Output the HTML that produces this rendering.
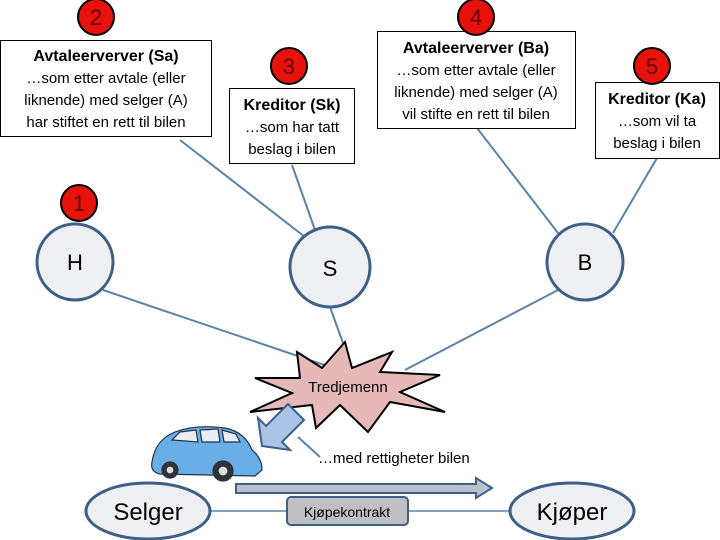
<!DOCTYPE html>
<html><head><meta charset="utf-8"><style>
body{margin:0;background:#fff}
svg{display:block;font-family:"Liberation Sans",sans-serif}
</style></head><body>
<svg width="720" height="540" viewBox="0 0 720 540" xmlns="http://www.w3.org/2000/svg">
<g stroke="#5b82a8" stroke-width="2" fill="none">
<line x1="180" y1="140" x2="305" y2="237"/>
<line x1="292" y1="165" x2="315" y2="230"/>
<line x1="477" y1="128" x2="558" y2="233"/>
<line x1="657" y1="158" x2="613" y2="233"/>
<line x1="103" y1="290" x2="345" y2="372"/>
<line x1="330" y1="307" x2="352" y2="368"/>
<line x1="558" y1="290" x2="405" y2="370"/>
<line x1="298" y1="437" x2="320" y2="457"/>
<line x1="205" y1="511" x2="510" y2="511" stroke-width="1.5"/>
</g>
<!-- boxes -->
<g fill="#fff" stroke="#000" stroke-width="1">
<rect x="0.5" y="40.5" width="211" height="96"/>
<rect x="229.5" y="88.5" width="125" height="75"/>
<rect x="377.5" y="31.5" width="198" height="97"/>
<rect x="595.5" y="82.5" width="124" height="76"/>
</g>
<g text-anchor="middle" font-size="15" fill="#000">
<text x="106" y="61" font-weight="bold" font-size="16">Avtaleerverver (Sa)</text>
<text x="106" y="83">…som etter avtale (eller</text>
<text x="106" y="105">liknende) med selger (A)</text>
<text x="106" y="127">har stiftet en rett til bilen</text>
<text x="292" y="110" font-weight="bold" font-size="16">Kreditor (Sk)</text>
<text x="292" y="132">…som har tatt</text>
<text x="292" y="154">beslag i bilen</text>
<text x="476" y="53" font-weight="bold" font-size="16">Avtaleerverver (Ba)</text>
<text x="476" y="75">…som etter avtale (eller</text>
<text x="476" y="97">liknende) med selger (A)</text>
<text x="476" y="119">vil stifte en rett til bilen</text>
<text x="657" y="104" font-weight="bold" font-size="16">Kreditor (Ka)</text>
<text x="657" y="126">…som vil ta</text>
<text x="657" y="148">beslag i bilen</text>
</g>
<!-- red numbers -->
<g fill="#e8120c" stroke="#000" stroke-width="2">
<circle cx="96" cy="17" r="18"/>
<circle cx="476" cy="17" r="18"/>
<circle cx="289" cy="66" r="18"/>
<circle cx="652" cy="66" r="18"/>
<circle cx="79" cy="203" r="18"/>
</g>
<g text-anchor="middle" font-size="22" fill="#600">
<text x="96" y="25">2</text><text x="476" y="25">4</text><text x="289" y="74">3</text><text x="652" y="74">5</text><text x="79" y="211">1</text>
</g>
<!-- node circles -->
<g fill="#eef0f4" stroke="#3f5f87" stroke-width="3">
<circle cx="75" cy="262" r="38"/>
<circle cx="330" cy="267" r="40"/>
<circle cx="585" cy="262" r="38"/>
</g>
<g text-anchor="middle" font-size="22" fill="#000">
<text x="75" y="270">H</text><text x="330" y="276">S</text><text x="585" y="270">B</text>
</g>
<!-- star -->
<polygon points="297,352 322,368 345,342 352,368 392,352 380,372 440,375 400,392 445,412 390,402 368,432 340,405 316,428 312,405 250,412 292,393 255,378 300,378" fill="#e6b8b8" stroke="#000" stroke-width="2"/>
<text x="348" y="392" text-anchor="middle" font-size="15">Tredjemenn</text>
<!-- car -->
<g stroke="#234" stroke-width="1.2">
<path d="M152,462 Q155,440 175,432 Q195,424 225,428 Q245,432 252,450 Q262,458 262,470 L255,476 L160,474 Q150,472 152,462Z" fill="#6aaee8"/>
<path d="M172,440 L180,432 L196,430 L198,442Z M200,430 L218,429 L220,442 L202,442Z M222,430 L236,434 L240,442 L224,442Z" fill="#e8eef4"/>
<circle cx="170" cy="470" r="8" fill="#333"/><circle cx="170" cy="470" r="4" fill="#ddd"/>
<circle cx="223" cy="471" r="10" fill="#333"/><circle cx="223" cy="471" r="5" fill="#ddd"/>
</g>
<!-- blue arrow down-left -->
<polygon points="296,412 304,420 282,442 290,450 262,446 258,418 266,426 288,404" fill="#a9c4e6" stroke="#3f5f87" stroke-width="2"/>
<text x="318" y="463" font-size="15">…med rettigheter  bilen</text>
<!-- big arrow -->
<polygon points="236,484 476,484 476,478 492,488 476,498 476,493 236,493" fill="#b8c0cc" stroke="#3f5f87" stroke-width="2"/>
<!-- ellipses -->
<g fill="#eef0f4" stroke="#3f5f87" stroke-width="3">
<ellipse cx="148" cy="511" rx="62" ry="28"/>
<ellipse cx="572" cy="511" rx="62" ry="28"/>
</g>
<text x="148" y="520" text-anchor="middle" font-size="24">Selger</text>
<text x="572" y="520" text-anchor="middle" font-size="24">Kjøper</text>
<rect x="287" y="497" width="121" height="28" rx="4" fill="#c0c0c4" stroke="#3f5f87" stroke-width="2"/>
<text x="347" y="517" text-anchor="middle" font-size="14">Kjøpekontrakt</text>
</svg>
</body></html>
